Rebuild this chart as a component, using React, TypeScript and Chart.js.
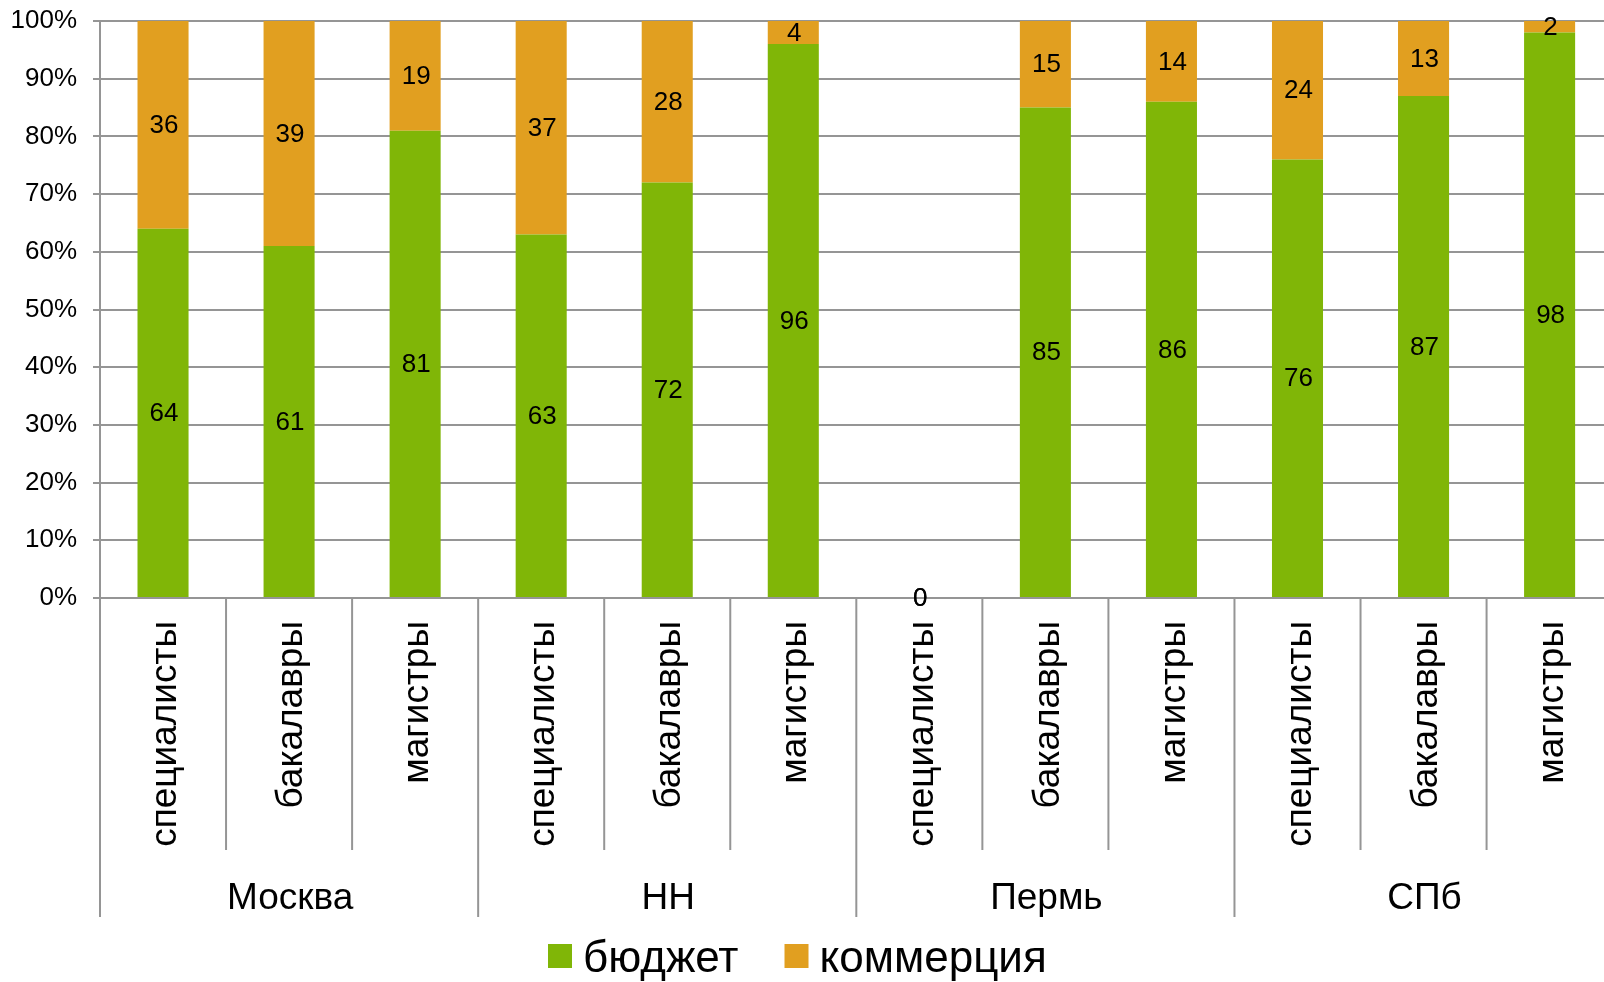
import React, { useEffect, useRef } from "react";
import { Chart, registerables } from "chart.js";

Chart.register(...registerables);

const categories = [
  "специалисты", "бакалавры", "магистры",
  "специалисты", "бакалавры", "магистры",
  "специалисты", "бакалавры", "магистры",
  "специалисты", "бакалавры", "магистры",
];
const groups = ["Москва", "НН", "Пермь", "СПб"];
const seriesNames = ["бюджет", "коммерция"];
const budget = [64, 61, 81, 63, 72, 96, 0, 85, 86, 76, 87, 98];
const commerce = [36, 39, 19, 37, 28, 4, 0, 15, 14, 24, 13, 2];
const yTickStep = 10;

const GREEN = "#80B607";
const ORANGE = "#E19F20";
const GRID = "#959595";
const FONT = "'Liberation Sans', Arial, sans-serif";

const decorPlugin = {
  id: "decor",
  afterDatasetsDraw(chart: any) {
    const ctx = chart.ctx;
    ctx.save();
    ctx.font = `26px ${FONT}`;
    ctx.fillStyle = "#000";
    ctx.textAlign = "center";
    ctx.textBaseline = "middle";
    chart.data.datasets.forEach((ds: any, di: number) => {
      const meta = chart.getDatasetMeta(di);
      meta.data.forEach((el: any, i: number) => {
        const p = el.getProps(["x", "y", "base"], true);
        ctx.fillText(String(ds.data[i]), p.x + 1, (p.y + p.base) / 2 + 1);
      });
    });
    ctx.restore();
  },
  afterDraw(chart: any) {
    const { ctx, chartArea } = chart;
    const xs = chart.scales.x;
    const n = categories.length;
    const cw = xs.getPixelForValue(1) - xs.getPixelForValue(0);
    const bottom = chartArea.bottom;
    ctx.save();
    ctx.strokeStyle = GRID;
    ctx.lineWidth = 2;
    for (let i = 0; i <= n; i++) {
      const x = xs.getPixelForValue(Math.min(i, n - 1)) + (i === n ? cw / 2 : -cw / 2);
      const major = i % 3 === 0;
      ctx.beginPath();
      ctx.moveTo(x, bottom);
      ctx.lineTo(x, bottom + (major ? 319 : 252));
      ctx.stroke();
    }
    ctx.fillStyle = "#000";
    ctx.font = `37px ${FONT}`;
    ctx.textAlign = "center";
    ctx.textBaseline = "alphabetic";
    groups.forEach((g, gi) => {
      const x = (xs.getPixelForValue(gi * 3) + xs.getPixelForValue(gi * 3 + 2)) / 2;
      ctx.fillText(g, x + 1, bottom + 311);
    });
    // legend
    const colors = [GREEN, ORANGE];
    ctx.font = `44px ${FONT}`;
    ctx.textAlign = "left";
    let x = 548;
    seriesNames.forEach((name, i) => {
      ctx.fillStyle = colors[i];
      ctx.fillRect(x, 944, 24, 24);
      ctx.fillStyle = "#000";
      ctx.fillText(name, x + 35, 972);
      x += 35 + ctx.measureText(name).width + 46;
    });
    ctx.restore();
  },
};

export default function App() {
  const ref = useRef<HTMLCanvasElement | null>(null);
  useEffect(() => {
    if (!ref.current) return;
    document.body.style.margin = "0";
    const chart = new Chart(ref.current, {
      type: "bar",
      data: {
        labels: categories,
        datasets: [
          { label: seriesNames[0], data: budget, backgroundColor: GREEN, barPercentage: 0.405, categoryPercentage: 1 },
          { label: seriesNames[1], data: commerce, backgroundColor: ORANGE, barPercentage: 0.405, categoryPercentage: 1 },
        ],
      },
      options: {
        responsive: false,
        animation: false,
        devicePixelRatio: 1,
        layout: { padding: { top: 21, bottom: 65, left: 0, right: 0 } },
        plugins: { legend: { display: false }, tooltip: { enabled: false } },
        scales: {
          x: {
            stacked: true,
            grid: { display: false, drawTicks: false },
            border: { display: true, color: GRID, width: 2 },
            ticks: {
              autoSkip: false,
              maxRotation: 90,
              minRotation: 90,
              padding: 23,
              labelOffset: 3,
              color: "#000",
              font: { family: FONT, size: 37 },
            },
            afterFit: (s: any) => { s.height = 319; },
          },
          y: {
            stacked: true,
            min: 0,
            max: 100,
            grid: { color: GRID, lineWidth: 2, tickLength: 7, drawTicks: true },
            border: { display: true, color: GRID, width: 2 },
            ticks: {
              stepSize: yTickStep,
              padding: 16,
              color: "#000",
              font: { family: FONT, size: 26 },
              callback: (v: any) => v + "%",
            },
            afterFit: (s: any) => { s.width = 100; s.paddingTop = 0; s.paddingBottom = 0; },
          },
        },
      },
      plugins: [decorPlugin],
    });
    return () => chart.destroy();
  }, []);
  return (
    <div style={{ position: "fixed", left: 0, top: 0, width: 1604, height: 982, overflow: "hidden", background: "#fff" }}>
      <canvas ref={ref} width={1617} height={982} style={{ display: "block" }} />
    </div>
  );
}
